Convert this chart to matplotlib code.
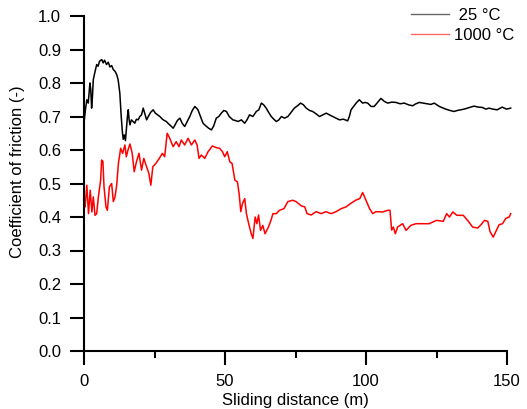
import numpy as np
import matplotlib
matplotlib.use('Agg')
import matplotlib.pyplot as plt

# values (sliding distance in m, COF)
dist_25 = [0, 0.5, 1.0, 1.5, 2.1, 2.4, 2.7, 3.0, 3.3, 3.8,
           4.5, 5.0, 5.5, 6.3, 6.8, 7.3, 8.0, 8.6, 9.2, 9.8,
           10.4, 11.0, 11.6, 12.1, 12.7, 13.2, 13.6, 13.9, 14.3, 14.7,
           15.0, 15.4, 15.7, 16.0, 16.3, 16.8, 17.4, 18.0, 18.6, 19.2,
           19.8, 20.4, 21.0, 21.5, 22.2, 22.8, 23.6, 24.5, 25.3, 26.1,
           26.9, 27.8, 28.5, 29.2, 30.0, 30.8, 31.6, 32.3, 33.1, 34.0,
           34.8, 35.7, 36.6, 37.5, 38.4, 39.3, 39.9, 40.4, 41.3, 42.2,
           43.2, 44.2, 45.2, 46.0, 46.9, 47.8, 48.7, 49.6, 50.5, 51.5,
           52.8, 53.7, 54.6, 55.8, 57.0, 57.8, 58.7, 59.9, 61.1, 62.0,
           62.9, 63.7, 64.6, 65.5, 66.4, 67.3, 68.2, 69.1, 70.0, 71.1,
           72.3, 73.4, 74.6, 75.7, 76.8, 77.8, 78.8, 80.0, 81.1, 82.3,
           83.5, 84.7, 85.9, 87.0, 88.2, 89.4, 90.6, 92.0, 93.5, 94.1,
           94.7, 95.6, 96.5, 97.6, 98.8, 99.7, 100.6, 101.8, 102.9, 104.1,
           105.3, 106.5, 107.7, 109.2, 110.6, 112.1, 113.6, 115.0, 116.5, 117.7,
           118.9, 120.3, 121.8, 123.0, 124.2, 125.1, 126.0, 127.2, 128.3, 129.8,
           131.2, 132.4, 133.6, 134.8, 136.0, 137.2, 138.3, 139.8, 141.3, 142.5,
           143.6, 145.0, 146.5, 147.4, 148.3, 149.8, 151.3]
cof_25 = [0.68, 0.72, 0.75, 0.74, 0.80, 0.78, 0.725, 0.76, 0.81, 0.83,
          0.855, 0.85, 0.865, 0.87, 0.86, 0.868, 0.855, 0.862, 0.848, 0.852,
          0.84, 0.835, 0.825, 0.81, 0.77, 0.70, 0.655, 0.632, 0.645, 0.628,
          0.66, 0.70, 0.72, 0.69, 0.675, 0.69, 0.685, 0.68, 0.692, 0.69,
          0.70, 0.705, 0.725, 0.71, 0.69, 0.70, 0.712, 0.72, 0.71, 0.705,
          0.70, 0.692, 0.688, 0.685, 0.678, 0.672, 0.665, 0.675, 0.688, 0.695,
          0.68, 0.67, 0.685, 0.70, 0.718, 0.73, 0.725, 0.72, 0.70, 0.68,
          0.672, 0.665, 0.66, 0.672, 0.695, 0.70, 0.71, 0.718, 0.715, 0.70,
          0.69, 0.688, 0.685, 0.69, 0.68, 0.69, 0.705, 0.70, 0.715, 0.72,
          0.74, 0.735, 0.725, 0.712, 0.70, 0.692, 0.685, 0.69, 0.70, 0.695,
          0.70, 0.712, 0.725, 0.732, 0.74, 0.735, 0.725, 0.718, 0.715, 0.708,
          0.70, 0.705, 0.71, 0.705, 0.70, 0.695, 0.69, 0.692, 0.687, 0.70,
          0.72, 0.73, 0.74, 0.75, 0.74, 0.742, 0.74, 0.73, 0.73, 0.742,
          0.754, 0.745, 0.74, 0.743, 0.742, 0.738, 0.74, 0.735, 0.732, 0.738,
          0.742, 0.74, 0.738, 0.736, 0.74, 0.735, 0.73, 0.726, 0.722, 0.718,
          0.715, 0.718, 0.72, 0.722, 0.725, 0.728, 0.731, 0.728, 0.727, 0.722,
          0.725, 0.722, 0.72, 0.724, 0.728, 0.722, 0.725]

dist_1000 = [0, 0.05, 0.4, 1.0, 1.6, 2.2, 2.8, 3.3, 3.9, 4.5,
             5.1, 5.9, 6.25, 6.7, 7.1, 7.8, 8.3, 9.0, 9.8, 10.4,
             11.0, 11.6, 12.2, 13.0, 13.7, 14.5, 15.0, 15.6, 16.3, 17.1,
             17.8, 18.6, 19.5, 20.4, 21.2, 22.2, 23.0, 23.7, 24.4, 25.5,
             26.7, 27.8, 28.6, 29.5, 30.4, 31.6, 32.7, 33.7, 34.5, 35.7,
             36.9, 38.1, 39.3, 40.1, 40.8, 41.6, 42.8, 44.0, 45.5, 46.9,
             48.1, 49.1, 49.9, 50.8, 51.7, 52.5, 53.5, 54.4, 55.0, 55.6,
             56.2, 57.0, 57.6, 58.4, 59.3, 59.9, 60.7, 61.3, 61.9, 62.6,
             63.4, 64.2, 65.4, 66.3, 67.0, 68.2, 69.3, 70.9, 72.3, 74.0,
             75.2, 77.1, 78.3, 79.1, 80.6, 82.3, 84.1, 85.8, 87.6, 89.4,
             91.2, 92.9, 94.5, 96.3, 97.8, 98.8, 100.0, 101.2, 102.4, 103.5,
             105.9, 107.7, 108.5, 109.1, 109.7, 110.4, 111.2, 113.0, 114.2, 115.9,
             117.7, 120.0, 122.4, 125.0, 127.4, 128.6, 129.6, 130.8, 132.2, 134.5,
             136.3, 137.8, 139.6, 140.8, 142.0, 143.2, 144.0, 145.1, 146.0, 147.2,
             148.4, 149.6, 150.8, 151.3]
cof_1000 = [0.24, 0.45, 0.43, 0.495, 0.41, 0.48, 0.415, 0.46, 0.405, 0.41,
            0.46, 0.51, 0.57, 0.566, 0.49, 0.43, 0.42, 0.49, 0.50, 0.446,
            0.46, 0.495, 0.56, 0.605, 0.59, 0.615, 0.58, 0.60, 0.618, 0.59,
            0.535, 0.565, 0.59, 0.54, 0.575, 0.55, 0.53, 0.495, 0.55, 0.56,
            0.575, 0.59, 0.58, 0.65, 0.635, 0.61, 0.625, 0.61, 0.63, 0.615,
            0.635, 0.615, 0.63, 0.615, 0.575, 0.585, 0.575, 0.595, 0.612, 0.607,
            0.605, 0.595, 0.58, 0.595, 0.565, 0.56, 0.51, 0.505, 0.47, 0.416,
            0.44, 0.455, 0.41, 0.38, 0.35, 0.336, 0.40, 0.38, 0.406, 0.36,
            0.375, 0.35, 0.37, 0.39, 0.41, 0.41, 0.42, 0.425, 0.446, 0.45,
            0.446, 0.433, 0.43, 0.41, 0.406, 0.416, 0.41, 0.416, 0.41, 0.416,
            0.425, 0.43, 0.44, 0.45, 0.455, 0.473, 0.45, 0.426, 0.41, 0.416,
            0.415, 0.42, 0.42, 0.361, 0.37, 0.35, 0.37, 0.38, 0.36, 0.375,
            0.38, 0.38, 0.38, 0.39, 0.387, 0.41, 0.40, 0.415, 0.405, 0.405,
            0.387, 0.37, 0.367, 0.377, 0.39, 0.387, 0.356, 0.34, 0.356, 0.377,
            0.38, 0.396, 0.40, 0.41]

x_ticks = [0, 50, 100, 150]
y_ticks = np.round(np.arange(0, 1.01, 0.1), 1)

plt.rcParams['font.family'] = ['Liberation Sans', 'DejaVu Sans']
plt.rcParams['font.size'] = 12

fig = plt.figure(figsize=(5.27, 4.09), dpi=100)
ax = fig.add_axes([84 / 527, 1 - 351 / 409, 423 / 527, 335 / 409])

ax.plot(dist_25, cof_25, color='black', lw=1.1, label=' 25 °C', clip_on=False)
ax.plot(dist_1000, cof_1000, color='red', lw=1.1, label='1000 °C', clip_on=False)

ax.set_xlim(0, 150)
ax.set_ylim(0, 1.0)
ax.set_xticks(x_ticks)
ax.set_xticks([25, 75, 125], minor=True)
ax.set_yticks(y_ticks)
ax.set_yticklabels(['%.1f' % v for v in y_ticks])

for s in ['top', 'right']:
    ax.spines[s].set_visible(False)
for s in ['left', 'bottom']:
    ax.spines[s].set_linewidth(1.5)

ax.tick_params(which='major', length=10, width=1.5, pad=6.5, direction='out')
ax.tick_params(which='minor', length=5, width=1.5, direction='out')

ax.set_xlabel('Sliding distance (m)')
ax.xaxis.set_label_coords(0.5, -0.125)
fig.text(18 / 527, 1 - 172 / 409, 'Coefficient of friction (-)', rotation=90,
         ha='center', va='center')

leg = ax.legend(loc='upper left', bbox_to_anchor=(411 / 527, 1 - 8 / 409),
                bbox_transform=fig.transFigure, frameon=False, borderpad=0,
                borderaxespad=0, handlelength=2.25, handletextpad=0.3,
                labelspacing=0.32)
for line in leg.get_lines():
    line.set_linewidth(1.0)
    line.set_alpha(0.6)

fig.savefig('out.png', dpi=100)
